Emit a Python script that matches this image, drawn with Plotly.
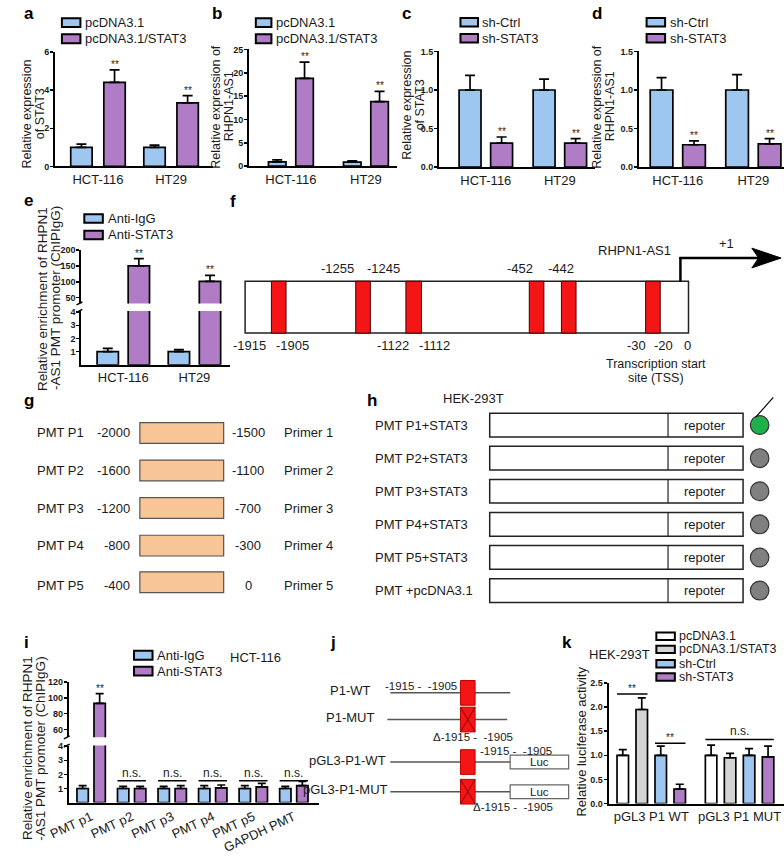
import plotly.graph_objects as go

# ---------------- data ----------------
cells = ["HCT-116", "HT29"]
ab_groups = ["pcDNA3.1", "pcDNA3.1/STAT3"]
cd_groups = ["sh-Ctrl", "sh-STAT3"]
chip_groups = ["Anti-IgG", "Anti-STAT3"]

a_vector = [1.0, 1.0]
a_vector_err = [0.17, 0.12]
a_stat3 = [4.41, 3.34]
a_stat3_err = [0.66, 0.38]

b_vector = [0.9, 0.85]
b_vector_err = [0.45, 0.3]
b_stat3 = [18.8, 13.8]
b_stat3_err = [3.5, 2.2]

c_shctrl = [1.0, 1.0]
c_shctrl_err = [0.19, 0.14]
c_shstat3 = [0.31, 0.31]
c_shstat3_err = [0.08, 0.06]

d_shctrl = [1.0, 1.0]
d_shctrl_err = [0.16, 0.2]
d_shstat3 = [0.29, 0.30]
d_shstat3_err = [0.05, 0.07]

e_igg = [1.0, 1.0]
e_igg_err = [0.25, 0.15]
e_stat3 = [150, 101]
e_stat3_err = [23, 19]

i_regions = ["PMT p1", "PMT p2", "PMT p3", "PMT p4", "PMT p5", "GAPDH PMT"]
i_igg = [1.0, 1.0, 1.0, 1.0, 1.0, 1.0]
i_igg_err = [0.2, 0.15, 0.15, 0.2, 0.2, 0.15]
i_stat3 = [92.9, 1.0, 1.0, 1.05, 1.12, 1.2]
i_stat3_err = [12.5, 0.15, 0.2, 0.2, 0.25, 0.3]

k_constructs = ["pGL3 P1 WT", "pGL3 P1 MUT"]
k_groups = ["pcDNA3.1", "pcDNA3.1/STAT3", "sh-Ctrl", "sh-STAT3"]
k_pcdna = [1.0, 1.0]
k_pcdna_err = [0.12, 0.21]
k_pcdna_stat3 = [1.95, 0.95]
k_pcdna_stat3_err = [0.24, 0.09]
k_shctrl = [1.0, 1.0]
k_shctrl_err = [0.19, 0.14]
k_shstat3 = [0.30, 0.97]
k_shstat3_err = [0.10, 0.22]

# diagram texts
f_top_sites = ["-1255", "-1245", "-452", "-442"]
f_bottom_sites = ["-1915", "-1905", "-1122", "-1112", "-30", "-20", "0"]
g_names = ["PMT P1", "PMT P2", "PMT P3", "PMT P4", "PMT P5"]
g_start = ["-2000", "-1600", "-1200", "-800", "-400"]
g_end = ["-1500", "-1100", "-700", "-300", "0"]
g_primers = ["Primer 1", "Primer 2", "Primer 3", "Primer 4", "Primer 5"]
h_constructs = ["PMT P1+STAT3", "PMT P2+STAT3", "PMT P3+STAT3", "PMT P4+STAT3",
                "PMT P5+STAT3", "PMT +pcDNA3.1"]
h_active = [True, False, False, False, False, False]
j_constructs = ["P1-WT", "P1-MUT", "pGL3-P1-WT", "pGL3-P1-MUT"]
j_mutant = [False, True, False, True]
j_site = "-1915 -  -1905"
j_site_del = "Δ-1915 -  -1905"

# ---------------- style ----------------
W, H = 784, 856
FONT = "Arial, Liberation Sans, Helvetica, sans-serif"
BLUE = "#9dc6f0"
PURPLE = "#b07cc6"
LGRAY = "#d4d4d4"
RED = "#f41616"
PEACH = "#f8c597"
TXT = "#1a1a1a"


def X(p):
    return p / W


def Y(p):
    return 1 - p / H


layout = dict(width=W, height=H, autosize=False, margin=dict(l=0, r=0, t=0, b=0),
              paper_bgcolor="white", plot_bgcolor="rgba(0,0,0,0)", barmode="overlay",
              font=dict(family=FONT, color=TXT), showlegend=False, hovermode=False)
shapes = []
annotations = []
fig = go.Figure()


def names(n):
    s = "" if n == 1 else str(n)
    return "xaxis" + s, "yaxis" + s, "x" + s, "y" + s


def make_axes(n, xpx, ypx, xrange, yrange, cats, tickvals=None, dtick=None,
              tickformat=None, xshow=True, tickangle=0, xfont=13):
    xa, ya, xr, yr = names(n)
    layout[xa] = dict(domain=[X(xpx[0]), X(xpx[1])], range=xrange, anchor=yr,
                      type="category", categoryorder="array", categoryarray=cats,
                      showline=True, linecolor="black", linewidth=2, ticks="",
                      showgrid=False, zeroline=False, showticklabels=True,
                      tickfont=dict(size=xfont, color=TXT), tickangle=tickangle,
                      fixedrange=True, visible=xshow)
    yd = dict(domain=[Y(ypx[0]), Y(ypx[1])], range=yrange, anchor=xr, showline=True,
              linecolor="black", linewidth=2, ticks="outside", ticklen=3, tickwidth=1.5,
              tickcolor="black", showgrid=False, zeroline=False, fixedrange=True,
              ticklabelstandoff=-1,
              tickfont=dict(size=9, color=TXT, weight="bold"))
    if tickvals is not None:
        yd["tickvals"] = tickvals
    if dtick is not None:
        yd["dtick"] = dtick
        yd["tick0"] = 0
    if tickformat:
        yd["tickformat"] = tickformat
    layout[ya] = yd
    return xr, yr


def add_bars(cats, vals, errs, color, xr, yr, width, offset, cap=5):
    fig.add_trace(go.Bar(
        x=cats, y=vals, xaxis=xr, yaxis=yr, width=width, offset=offset,
        marker=dict(color=color, line=dict(color="black", width=1.7)),
        error_y=dict(type="data", array=errs, arrayminus=[0] * len(errs), symmetric=False,
                     color="black", thickness=1.7, width=cap),
        showlegend=False, hoverinfo="skip"))


def stars(xr, yr, xpos, ytop, text="**", size=10):
    annotations.append(dict(x=xpos, y=ytop, xref=xr, yref=yr, text=text, showarrow=False,
                            yanchor="bottom", font=dict(size=size, color="#222"), yshift=-2))


def txt(x, y, text, size=13, xanchor="center", yanchor="middle", angle=0, bold=False,
        color=TXT):
    annotations.append(dict(x=X(x), y=Y(y), xref="paper", yref="paper", text=text,
                            showarrow=False, xanchor=xanchor, yanchor=yanchor,
                            textangle=angle, font=dict(size=size, color=color,
                                                       weight="bold" if bold else "normal")))


def rect(x0, y0, x1, y1, fill, line="black", lw=1.5):
    shapes.append(dict(type="rect", xref="paper", yref="paper", x0=X(x0), x1=X(x1),
                       y0=Y(y1), y1=Y(y0), fillcolor=fill, line=dict(color=line, width=lw)))


def line(x0, y0, x1, y1, color="black", lw=1.5):
    shapes.append(dict(type="line", xref="paper", yref="paper", x0=X(x0), x1=X(x1),
                       y0=Y(y0), y1=Y(y1), line=dict(color=color, width=lw)))


def legend(items, x0, x1, ys, h, tx, size=13):
    for (label, color), yc in zip(items, ys):
        rect(x0, yc - h / 2, x1, yc + h / 2, color, lw=2)
        txt(tx, yc, label, size=size, xanchor="left")


def two_bar_panel(n, xpx, ypx, xrange, yrange, ctrl, ctrl_err, trt, trt_err, w, g,
                  dtick, tickformat=None):
    xr, yr = make_axes(n, xpx, ypx, xrange, yrange, cells, dtick=dtick, tickformat=tickformat)
    add_bars(cells, ctrl, ctrl_err, BLUE, xr, yr, w, -(w + g / 2))
    add_bars(cells, trt, trt_err, PURPLE, xr, yr, w, g / 2)
    for i, (v, e) in enumerate(zip(trt, trt_err)):
        stars(xr, yr, i + g / 2 + w / 2, v + e)
    return xr, yr


def break_marks(xa, y_upper_bottom, y_lower_top):
    # small slanted marks where the y axis is broken
    line(xa - 5, y_upper_bottom + 1.5, xa + 1, y_upper_bottom - 1.5, "black", 1.5)
    line(xa - 5, y_lower_top + 1.5, xa + 1, y_lower_top - 1.5, "black", 1.5)


# ---------------- panels a-d ----------------
two_bar_panel(1, (36, 198), (163.3, 47.7), [-0.587, 1.573], [0, 6], a_vector, a_vector_err,
              a_stat3, a_stat3_err, 0.293, 0.16, 2)
two_bar_panel(2, (235, 387), (163, 45), [-0.558, 1.416], [0, 25], b_vector, b_vector_err,
              b_stat3, b_stat3_err, 0.234, 0.13, 5)
two_bar_panel(3, (430, 590), (164, 47), [-0.632, 1.474], [0, 1.5], c_shctrl, c_shctrl_err,
              c_shstat3, c_shstat3_err, 0.296, 0.13, 0.5, ".1f")
two_bar_panel(4, (635, 784), (164, 47), [-0.516, 1.406], [0, 1.5], d_shctrl, d_shctrl_err,
              d_shstat3, d_shstat3_err, 0.30, 0.13, 0.5, ".1f")

legend(list(zip(ab_groups, [BLUE, PURPLE])), 43, 62, [17.8, 34.2], 9, 65)
legend(list(zip(ab_groups, [BLUE, PURPLE])), 242, 258, [17.8, 34.2], 9, 261)
legend(list(zip(cd_groups, [BLUE, PURPLE])), 452, 470, [17.5, 33.7], 8.5, 472)
legend(list(zip(cd_groups, [BLUE, PURPLE])), 643, 662, [17.5, 33.7], 8.5, 665)

TS = 12.5
txt(7, 110, "Relative expression", TS, angle=-90)
txt(20, 110, "of STAT3", TS, angle=-90)
txt(201, 103, "Relative expression of", TS, angle=-90)
txt(214, 103, "RHPN1-AS1", TS, angle=-90)
txt(397, 101, "Relative expression", TS, angle=-90)
txt(410, 101, "of STAT3", TS, angle=-90)
txt(592, 103, "Relative expression of", TS, angle=-90)
txt(605, 103, "RHPN1-AS1", TS, angle=-90)

# ---------------- panel e (broken axis) ----------------
w_e, g_e = 0.30, 0.137
xr5, yr5 = make_axes(5, (63, 215), (364, 309.5), [-0.589, 1.493], [0, 4.1], cells,
                     tickvals=[1, 2, 3, 4])
xr6, yr6 = make_axes(6, (63, 215), (302, 248), [-0.589, 1.493], [31.6, 200], cells,
                     tickvals=[50, 100, 150, 200], xshow=False)
for xr, yr in ((xr5, yr5), (xr6, yr6)):
    add_bars(cells, e_igg, e_igg_err, BLUE, xr, yr, w_e, -(w_e + g_e / 2))
    add_bars(cells, e_stat3, e_stat3_err, PURPLE, xr, yr, w_e, g_e / 2)
for i, (v, e) in enumerate(zip(e_stat3, e_stat3_err)):
    stars(xr6, yr6, i + g_e / 2 + w_e / 2, v + e)
break_marks(63, 302, 309.5)
legend(list(zip(chip_groups, [BLUE, PURPLE])), 66, 85, [216, 232.7], 8.5, 88)
txt(23, 297, "Relative enrichment of RHPN1", 13.5, angle=-90)
txt(36.5, 297, "-AS1 PMT promoter (ChIPIgG)", 13.5, angle=-90)

# ---------------- panel i (broken axis) ----------------
w_i, g_i = 0.28, 0.14
xr7, yr7 = make_axes(7, (50, 307), (807, 749.3), [-0.553, 5.625], [0, 4.05], i_regions,
                     tickvals=[1, 2, 3, 4], tickangle=-25, xfont=13)
xr8, yr8 = make_axes(8, (50, 307), (741, 685), [-0.553, 5.625], [50, 120], i_regions,
                     tickvals=[60, 80, 100, 120], xshow=False)
for xr, yr in ((xr7, yr7), (xr8, yr8)):
    add_bars(i_regions, i_igg, i_igg_err, BLUE, xr, yr, w_i, -(w_i + g_i / 2), cap=4)
    add_bars(i_regions, i_stat3, i_stat3_err, PURPLE, xr, yr, w_i, g_i / 2, cap=4)
stars(xr8, yr8, g_i / 2 + w_i / 2, i_stat3[0] + i_stat3_err[0])
for i in range(1, len(i_regions)):
    x0, x1 = i - (w_i + g_i / 2), i + g_i / 2 + w_i
    shapes.append(dict(type="line", xref=xr7, yref=yr7, x0=x0, x1=x1, y0=1.55, y1=1.55,
                       line=dict(color="black", width=1.5)))
    annotations.append(dict(x=i, y=1.55, xref=xr7, yref=yr7, text="n.s.", showarrow=False,
                            yanchor="bottom", font=dict(size=12, color=TXT), yshift=-1))
break_marks(50, 741, 749.3)
legend(list(zip(chip_groups, [BLUE, PURPLE])), 117, 136, [658, 674], 9, 139)
txt(213, 660, "HCT-116", 13, xanchor="left")
txt(7, 752, "Relative enrichment of RHPN1", 13.5, angle=-90)
txt(21, 752, "-AS1 PMT promoter (ChIPIgG)", 13.5, angle=-90)

# ---------------- panel k ----------------
xr9, yr9 = make_axes(9, (604, 784), (808, 686), [-0.483, 1.503], [0, 2.5], k_constructs,
                     dtick=0.5, tickformat=".1f")
k_w, k_pitch = 0.13, 0.215
k_series = [(k_pcdna, k_pcdna_err, "white"), (k_pcdna_stat3, k_pcdna_stat3_err, LGRAY),
            (k_shctrl, k_shctrl_err, BLUE), (k_shstat3, k_shstat3_err, PURPLE)]
for j, (vals, errs, col) in enumerate(k_series):
    add_bars(k_constructs, vals, errs, col, xr9, yr9, k_w, (j - 1.5) * k_pitch - k_w / 2, cap=4)


def kbar_edge(j, side):
    c = (j - 1.5) * k_pitch
    return c - k_w / 2 if side == "l" else c + k_w / 2


for (x0, x1, yv, label) in [(kbar_edge(0, "l"), kbar_edge(1, "r"), 2.27, "**"),
                            (kbar_edge(2, "l"), kbar_edge(3, "r"), 1.25, "**"),
                            (1 + kbar_edge(0, "l"), 1 + kbar_edge(3, "r"), 1.33, "n.s.")]:
    shapes.append(dict(type="line", xref=xr9, yref=yr9, x0=x0, x1=x1, y0=yv, y1=yv,
                       line=dict(color="black", width=1.5)))
    annotations.append(dict(x=(x0 + x1) / 2, y=yv, xref=xr9, yref=yr9, text=label,
                            showarrow=False, yanchor="bottom",
                            font=dict(size=10 if label == "**" else 12, color="#222"),
                            yshift=-2 if label == "**" else -1))
legend(list(zip(k_groups, ["white", LGRAY, BLUE, PURPLE])), 653, 672,
       [638.7, 652, 666.5, 680], 7.5, 674, size=12.5)
txt(582, 657, "HEK-293T", 13, xanchor="left")
txt(576, 745, "Relative luciferase activity", 13, angle=-90)

# ---------------- panel f (promoter schematic) ----------------
f_box = (231, 279.5, 686, 332)
rect(*f_box, "white", line="#222", lw=1.5)
for x0, x1 in [(258, 273), (344.5, 359.5), (396, 412), (522.6, 537.6), (555.6, 570.6),
               (642, 657)]:
    rect(x0, f_box[1], x1, f_box[3], RED, line="#4a0000", lw=1)
for label, x in zip(f_top_sites, [325.7, 373.4, 513.6, 555]):
    txt(x, 267, label, 13)
for label, x in zip(f_bottom_sites, [235.6, 279.5, 382.8, 425, 632.6, 660.8, 685]):
    txt(x, 345, label, 13)
txt(653, 363.5, "Transcription start", 12.5)
txt(653, 377.5, "site (TSS)", 12.5)
txt(631, 248, "RHPN1-AS1", 13)
txt(725, 241, "+1", 13)
line(677.7, 279.5, 677.7, 255.5, "black", 2.5)
line(676.5, 256, 760, 256, "black", 2.5)
shapes.append(dict(type="path", xref="paper", yref="paper",
                   path=f"M{X(781)},{Y(256)} L{X(751)},{Y(246)} L{X(758)},{Y(256)} "
                        f"L{X(751)},{Y(266)} Z",
                   fillcolor="black", line=dict(color="black", width=1)))

# ---------------- panel g (primer regions) ----------------
g_rows = [433, 471, 509, 547, 584]
for name, s, e, p, yc in zip(g_names, g_start, g_end, g_primers, g_rows):
    dy = 3 if name.endswith("5") else 0
    txt(15, yc + dy, name, 13, xanchor="left")
    txt(115, yc + dy, s, 13, xanchor="right")
    rect(123, yc - 10.5, 209, yc + 10.5, PEACH, line="#555", lw=1.2)
    txt(234, yc + dy, e, 13)
    txt(269, yc + dy, p, 13, xanchor="left")

# ---------------- panel h (reporter constructs) ----------------
txt(432, 398, "HEK-293T", 13, xanchor="left")
for k, (name, act) in enumerate(zip(h_constructs, h_active)):
    yc = 425 + 33.5 * k
    txt(362, yc, name, 13, xanchor="left")
    rect(482, yc - 12, 742, yc + 12, "white", line="#222", lw=1.5)
    line(665, yc - 12, 665, yc + 12, "#222", 1.2)
    txt(703, yc, "repoter", 13)
    r = 9.5
    shapes.append(dict(type="circle", xref="paper", yref="paper", x0=X(759 - r),
                       x1=X(759 + r), y0=Y(yc + r), y1=Y(yc - r),
                       fillcolor="#1fb04a" if act else "#808080",
                       line=dict(color="#333", width=1.2)))
line(755, 417, 773, 397, "black", 1.2)

# ---------------- panel j (mutation constructs) ----------------
j_rows = [696, 723, 766, 796]
j_label_right = [362, 365, 378, 380]
j_line = [(380, 503), (377, 500), (380, 503), (380, 503)]
for k, (name, mut) in enumerate(zip(j_constructs, j_mutant)):
    yc = j_rows[k]
    txt(j_label_right[k], yc - 2, name, 13, xanchor="right")
    line(j_line[k][0], yc, j_line[k][1], yc, "#555", 1.5)
    rect(452, yc - 12.5, 467, yc + 12.5, RED, line="#c00000", lw=1)
    if mut:
        line(452, yc - 12.5, 467, yc + 12.5, "#6b0000", 0.8)
        line(452, yc + 12.5, 467, yc - 12.5, "#6b0000", 0.8)
    if k >= 2:
        rect(503, yc - 7, 563, yc + 7, "white", line="#666", lw=1.2)
        txt(533, yc, "Luc", 11.5)
txt(450, 689, j_site, 11.5, xanchor="right")
txt(465, 741, j_site_del, 11.5)
txt(509, 754.5, j_site, 11.5)
txt(506, 811, j_site_del, 11.5)

# ---------------- panel letters ----------------
for letter, x, y in [("a", 2, 9), ("b", 195, 9), ("c", 390, 9), ("d", 585, 9),
                     ("e", 2, 198), ("f", 213, 199), ("g", 2, 400), ("h", 354, 400),
                     ("i", 2, 645), ("j", 316, 645), ("k", 554, 645)]:
    txt(x, y, letter, 17, xanchor="left", bold=True, color="black")

layout["shapes"] = shapes
layout["annotations"] = annotations
fig.update_layout(**layout)
fig.write_html("out.html", config={"displayModeBar": False, "staticPlot": True},
               post_script="document.body.style.margin='0px';")
